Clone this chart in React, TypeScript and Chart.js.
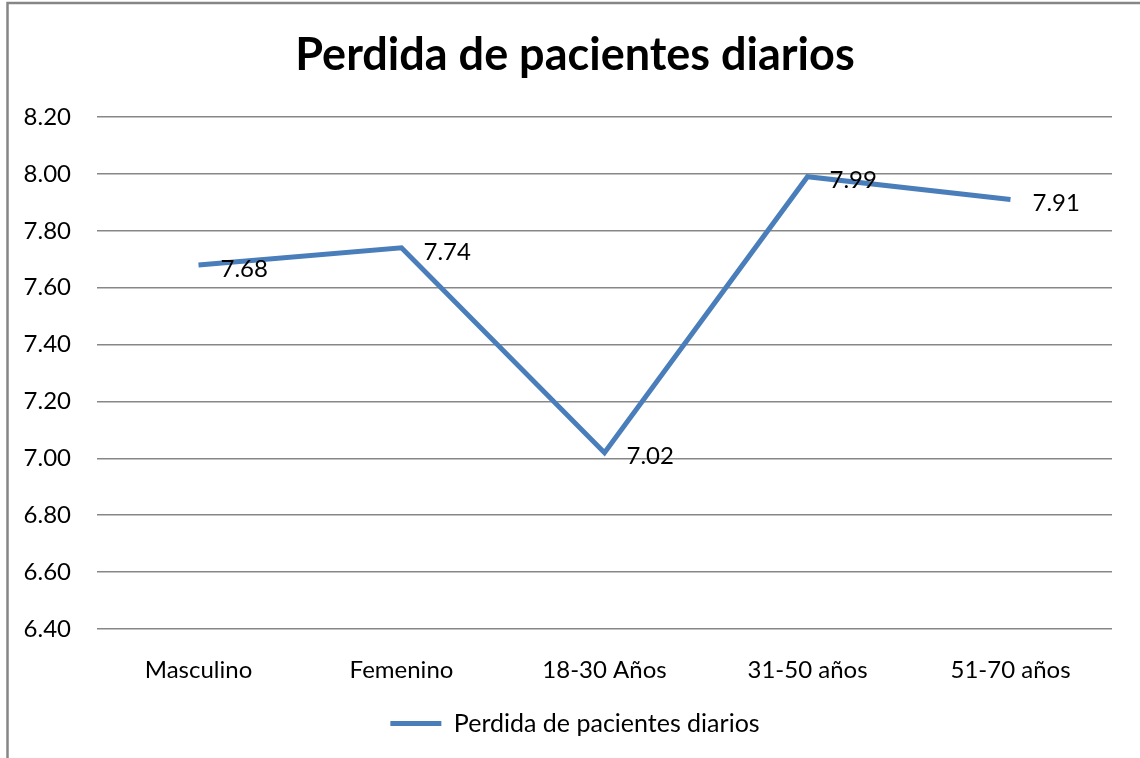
import { useEffect, useRef } from "react";
import { Chart, registerables } from "chart.js";

Chart.register(...registerables);

const categories = ["Masculino", "Femenino", "18-30 Años", "31-50 años", "51-70 años"];
const values = [7.68, 7.74, 7.02, 7.99, 7.91];
const seriesName = "Perdida de pacientes diarios";
const chartTitle = "Perdida de pacientes diarios";
const yMin = 6.4;
const yMax = 8.2;
const yStep = 0.2;

const FONT = "Lato";
const LINE_COLOR = "#4a7ebb";
const GRID_COLOR = "#878787";

const borderPlugin = {
  id: "outerBorder",
  beforeDraw(chart: any) {
    const ctx = chart.ctx;
    ctx.save();
    ctx.fillStyle = "#ffffff";
    ctx.fillRect(0, 0, chart.width, chart.height);
    ctx.strokeStyle = "#868686";
    ctx.lineWidth = 2.5;
    ctx.beginPath();
    ctx.moveTo(7.5, chart.height);
    ctx.lineTo(7.5, 3);
    ctx.lineTo(chart.width, 3);
    ctx.stroke();
    ctx.restore();
  },
};

const labelPlugin = {
  id: "valueLabels",
  afterDatasetsDraw(chart: any) {
    const ctx = chart.ctx;
    const meta = chart.getDatasetMeta(0);
    ctx.save();
    ctx.font = `24px ${FONT}`;
    ctx.fillStyle = "#000000";
    ctx.textAlign = "left";
    ctx.textBaseline = "middle";
    meta.data.forEach((pt: any, i: number) => {
      const v = chart.data.datasets[0].data[i] as number;
      ctx.fillText(v.toFixed(2), pt.x + 22, pt.y + 4);
    });
    ctx.restore();
  },
};

export default function App() {
  const ref = useRef<HTMLCanvasElement | null>(null);

  useEffect(() => {
    if (!ref.current) return;
    const chart = new Chart(ref.current, {
      type: "line",
      data: {
        labels: categories,
        datasets: [
          {
            label: seriesName,
            data: values,
            yAxisID: "y",
            borderColor: LINE_COLOR,
            backgroundColor: LINE_COLOR,
            borderWidth: 5,
            borderJoinStyle: "miter",
            pointRadius: 0,
            pointHoverRadius: 0,
            tension: 0,
            fill: false,
          },
        ],
      },
      options: {
        animation: false,
        responsive: false,
        devicePixelRatio: 1,
        layout: { padding: { left: 10, right: 0, top: 0, bottom: 12 } },
        plugins: {
          title: {
            display: true,
            text: chartTitle,
            color: "#000000",
            font: { family: FONT, size: 45, weight: "bold", lineHeight: 1.2 },
            padding: { top: 28, bottom: 35 },
          },
          legend: {
            display: true,
            position: "bottom",
            labels: {
              color: "#000000",
              font: { family: FONT, size: 25 },
              boxWidth: 51,
              boxHeight: 5,
              padding: 10,
              generateLabels: () => [
                {
                  text: seriesName,
                  fillStyle: LINE_COLOR,
                  strokeStyle: LINE_COLOR,
                  lineWidth: 0,
                  hidden: false,
                  datasetIndex: 0,
                  fontColor: "#000000",
                },
              ],
            },
          },
          tooltip: { enabled: false },
        },
        scales: {
          x: {
            offset: true,
            grid: { display: false, drawTicks: false },
            border: { display: false },
            afterFit: (s: any) => {
              s.height = 72;
            },
            ticks: {
              color: "#000000",
              font: { family: FONT, size: 24 },
              padding: 27,
              maxRotation: 0,
            },
          },
          y: {
            position: "left",
            min: yMin,
            max: yMax,
            grid: { color: GRID_COLOR, lineWidth: 1.5, drawTicks: false },
            border: { display: false },
            afterFit: (s: any) => {
              s.width = 87;
            },
            ticks: {
              stepSize: yStep,
              color: "#000000",
              font: { family: FONT, size: 24 },
              padding: 26,
              callback: (v: any) => Number(v).toFixed(2),
            },
          },
          yRight: {
            position: "right",
            display: true,
            grid: { display: false, drawTicks: false },
            border: { display: false },
            ticks: { display: false },
            afterFit: (s: any) => {
              s.width = 28;
            },
          },
        },
      },
      plugins: [borderPlugin, labelPlugin],
    });
    return () => chart.destroy();
  }, []);

  return (
    <div style={{ position: "fixed", left: 0, top: 0, width: 1140, height: 758, overflow: "hidden" }}>
      <canvas ref={ref} width={1140} height={758} style={{ width: 1140, height: 758, display: "block" }} />
    </div>
  );
}
